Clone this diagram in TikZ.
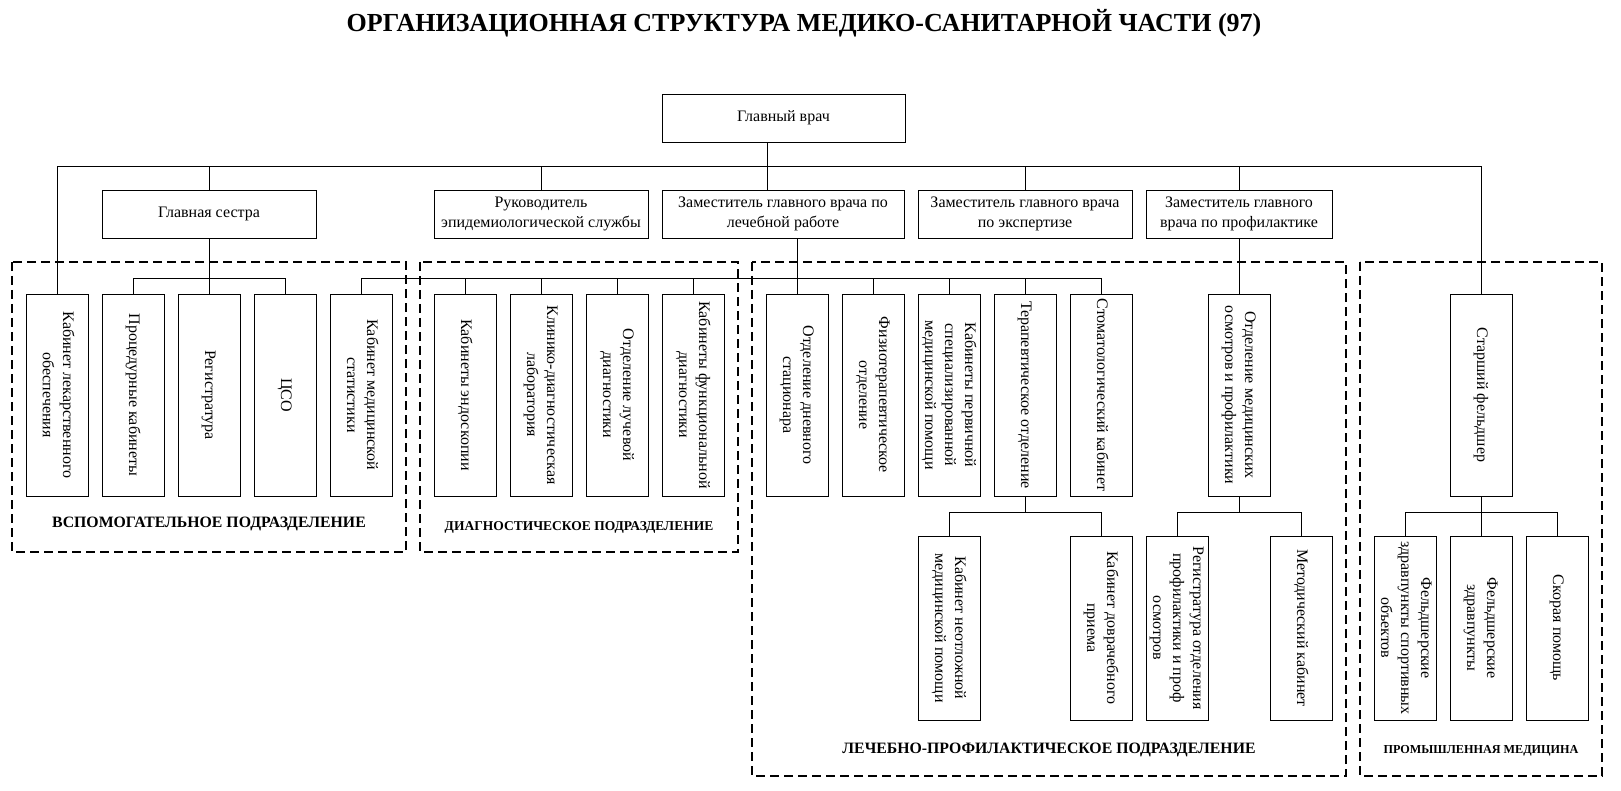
\documentclass[tikz,border=0pt]{standalone}
\usepackage{fontspec}
\usepackage{graphicx}
\setmainfont{Liberation Serif}
\newcommand{\vlab}[1]{\rotatebox{-90}{\begin{tabular}{@{}c@{}}#1\end{tabular}}}
\tikzset{
  orgbox/.style={draw,line width=.8pt,align=center,inner sep=0pt,font=\fontsize{16}{20}\selectfont},
  topbox/.style={orgbox,minimum height=48},
  vbox/.style={orgbox,minimum width=62,minimum height=202},
  lowbox/.style={orgbox,minimum width=62,minimum height=184},
  link/.style={line width=.8pt},
  unitframe/.style={line width=1.6pt,dash pattern=on 9pt off 5pt},
  unitlab/.style={font=\bfseries\fontsize{15.8}{18}\selectfont},
  unitlabsmall/.style={font=\bfseries\fontsize{13.5}{16}\selectfont}
}

\begin{document}
\begin{tikzpicture}[x=1pt,y=-1pt]
  \useasboundingbox (0,0) rectangle (1621,791);
  \node[font=\bfseries\fontsize{26}{30}\selectfont] (title) at (804,23) {ОРГАНИЗАЦИОННАЯ СТРУКТУРА МЕДИКО-САНИТАРНОЙ ЧАСТИ (97)};

  % dashed units
  \draw[unitframe] (12,262) rectangle (406,552);
  \draw[unitframe] (420,262) rectangle (738,552);
  \draw[unitframe] (752,262) rectangle (1346,776);
  \draw[unitframe] (1360,262) rectangle (1602,776);

  \node[topbox,minimum width=243] (gv) at (783.5,118) {Главный врач};
  \node[topbox,minimum width=214] (gs) at (209,214) {Главная сестра};
  \node[topbox,minimum width=214] (re) at (541,214) {Руководитель\\эпидемиологической службы};
  \node[topbox,minimum width=242] (zl) at (783,214) {Заместитель главного врача по\\лечебной работе};
  \node[topbox,minimum width=214] (ze) at (1025,214) {Заместитель главного врача\\по экспертизе};
  \node[topbox,minimum width=186] (zp) at (1239,214) {Заместитель главного\\врача по профилактике};

  \node[vbox] (kl) at (57,395) {\vlab{Кабинет лекарственного\\обеспечения}};
  \node[vbox] (pk) at (133,395) {\vlab{Процедурные кабинеты}};
  \node[vbox] (reg) at (209,395) {\vlab{Регистратура}};
  \node[vbox] (cso) at (285,395) {\vlab{ЦСО}};
  \node[vbox] (ms) at (361,395) {\vlab{Кабинет медицинской\\статистики}};

  \node[vbox] (ke) at (465,395) {\vlab{Кабинеты эндоскопии}};
  \node[vbox] (kld) at (541,395) {\vlab{Клинико-диагностическая\\лаборатория}};
  \node[vbox] (olu) at (617,395) {\vlab{Отделение лучевой\\диагностики}};
  \node[vbox] (kf) at (693,395) {\vlab{Кабинеты функциональной\\диагностики}};

  \node[vbox] (od) at (797,395) {\vlab{Отделение дневного\\стационара}};
  \node[vbox] (ft) at (873,395) {\vlab{Физиотерапевтическое\\отделение}};
  \node[vbox] (kp) at (949,395) {\vlab{Кабинеты первичной\\специализированной\\медицинской помощи}};
  \node[vbox] (ter) at (1025,395) {\vlab{Терапевтическое отделение}};
  \node[vbox] (stom) at (1101,395) {\vlab{Стоматологический кабинет}};
  \node[vbox] (oso) at (1239,395) {\vlab{Отделение медицинских\\осмотров и профилактики}};
  \node[vbox] (sf) at (1481,395) {\vlab{Старший фельдшер}};

  \node[lowbox] (kn) at (949,628) {\vlab{Кабинет неотложной\\медицинской помощи}};
  \node[lowbox] (kd) at (1101,628) {\vlab{Кабинет доврачебного\\приема}};
  \node[lowbox] (ro) at (1177,628) {\vlab{Регистратура отделения\\профилактики и проф\\осмотров}};
  \node[lowbox] (mk) at (1301,628) {\vlab{Методический кабинет}};
  \node[lowbox] (fz1) at (1405,628) {\vlab{Фельдшерские\\здравпункты спортивных\\объектов}};
  \node[lowbox] (fz2) at (1481,628) {\vlab{Фельдшерские\\здравпункты}};
  \node[lowbox] (sp) at (1557,628) {\vlab{Скорая помощь}};

  \node[unitlab] (lab1) at (209,524) {ВСПОМОГАТЕЛЬНОЕ ПОДРАЗДЕЛЕНИЕ};
  \node[unitlabsmall] (lab2) at (579,527) {ДИАГНОСТИЧЕСКОЕ ПОДРАЗДЕЛЕНИЕ};
  \node[unitlab] (lab3) at (1049,750) {ЛЕЧЕБНО-ПРОФИЛАКТИЧЕСКОЕ ПОДРАЗДЕЛЕНИЕ};
  \node[font=\bfseries\fontsize{12.2}{15}\selectfont] (lab4) at (1481,751) {ПРОМЫШЛЕННАЯ МЕДИЦИНА};

  % buses
  \coordinate (busA) at (0,166);
  \coordinate (busB) at (0,278);
  \coordinate (busC) at (0,512);
  \coordinate (gvdrop) at (767,0);

  \draw[link] (gvdrop |- gv.south) -- (gvdrop |- zl.north);
  \draw[link] (kl.north) -- (kl.north |- busA) -- (sf.north |- busA) -- (sf.north);
  \foreach \n in {gs,re,ze,zp}
    \draw[link] (\n.north) -- (\n.north |- busA);

  \draw[link] (gs.south) -- (reg.north);
  \draw[link] (pk.north) -- (pk.north |- busB) -- (cso.north |- busB) -- (cso.north);
  \draw[link] (ms.north) -- (ms.north |- busB) -- (stom.north |- busB) -- (stom.north);
  \foreach \n in {ke,kld,olu,kf,ft,kp,ter}
    \draw[link] (\n.north) -- (\n.north |- busB);
  \draw[link] (od.north |- zl.south) -- (od.north);
  \draw[link] (zp.south) -- (oso.north);

  \draw[link] (ter.south) -- (ter.south |- busC);
  \draw[link] (kn.north) -- (kn.north |- busC) -- (kd.north |- busC) -- (kd.north);
  \draw[link] (oso.south) -- (oso.south |- busC);
  \draw[link] (ro.north) -- (ro.north |- busC) -- (mk.north |- busC) -- (mk.north);
  \draw[link] (sf.south) -- (fz2.north);
  \draw[link] (fz1.north) -- (fz1.north |- busC) -- (sp.north |- busC) -- (sp.north);
\end{tikzpicture}
\end{document}
